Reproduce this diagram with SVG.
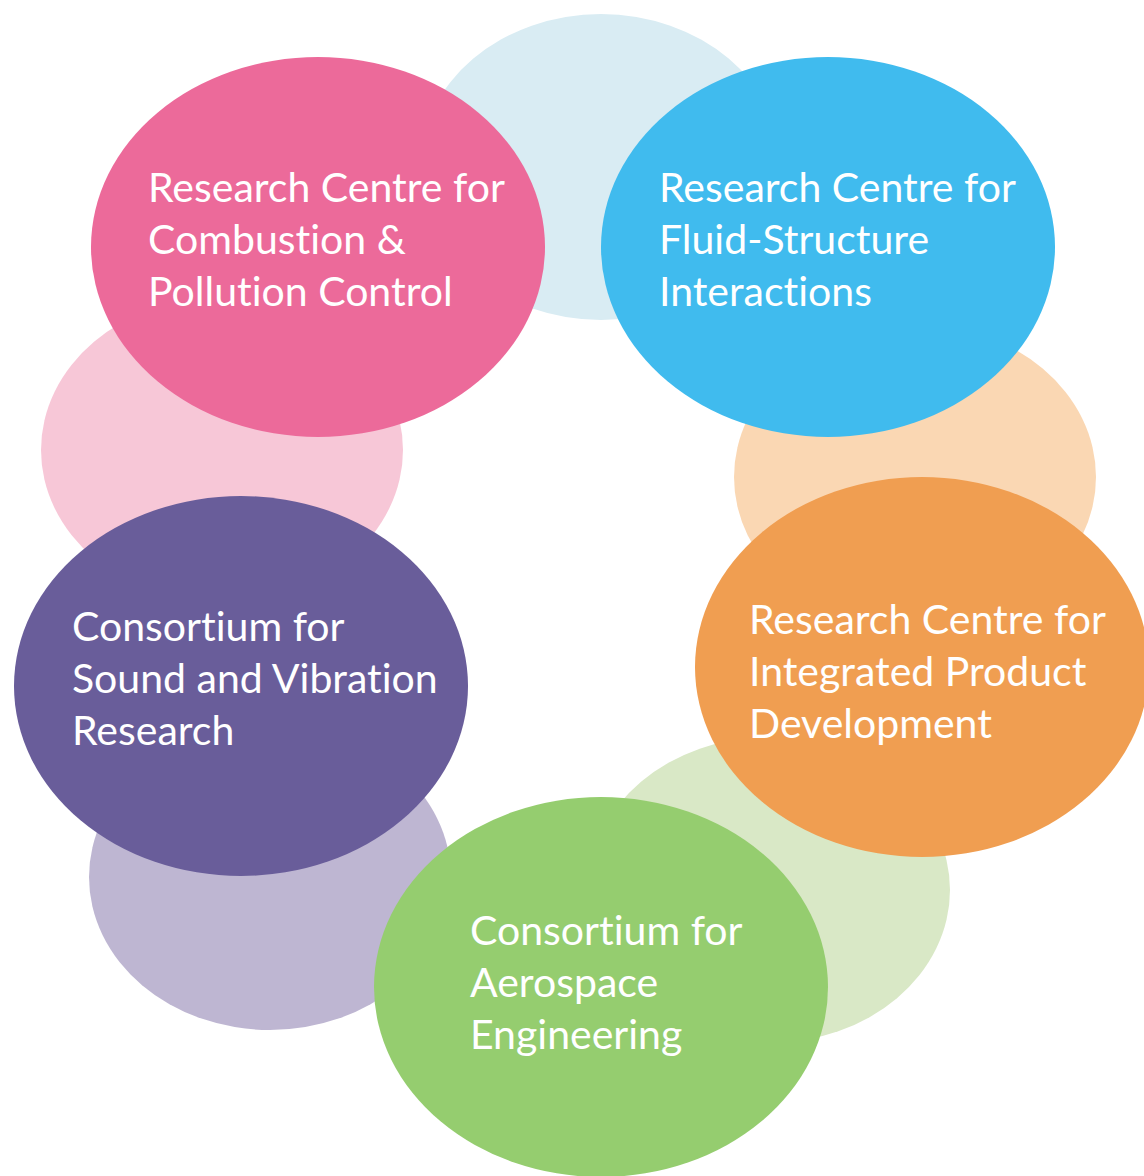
<svg xmlns="http://www.w3.org/2000/svg" width="1144" height="1176" viewBox="0 0 1144 1176">
<style>
.bg{stroke:none}
.fg{stroke:none}
.lbl{font-family:Lato,"Open Sans","Liberation Sans",sans-serif;font-size:41px;fill:#ffffff;font-variant-ligatures:none;font-feature-settings:"liga" 0,"clig" 0}
</style>
<rect x="0" y="0" width="1144" height="1176" fill="#ffffff"/>
<g id="background-ellipses">
<ellipse class="bg" cx="601" cy="167" rx="181" ry="153" fill="#D9ECF3"/>
<ellipse class="bg" cx="915" cy="477" rx="181" ry="153" fill="#FAD7B3"/>
<ellipse class="bg" cx="769" cy="890" rx="181" ry="153" fill="#D9E8C6"/>
<ellipse class="bg" cx="270" cy="877" rx="181" ry="153" fill="#BEB6D2"/>
<ellipse class="bg" cx="222" cy="450" rx="181" ry="153" fill="#F7C7D7"/>
</g>
<g id="node-combustion">
<ellipse class="fg" cx="318" cy="247" rx="227" ry="190" fill="#EC6A9A"/>
<text class="lbl" x="148" y="202">Research Centre for</text>
<text class="lbl" x="148" y="254">Combustion &amp;</text>
<text class="lbl" x="148" y="306">Pollution Control</text>
</g>
<g id="node-fluid">
<ellipse class="fg" cx="828" cy="247" rx="227" ry="190" fill="#40BBEE"/>
<text class="lbl" x="659" y="202">Research Centre for</text>
<text class="lbl" x="659" y="254">Fluid-Structure</text>
<text class="lbl" x="659" y="306">Interactions</text>
</g>
<g id="node-product">
<ellipse class="fg" cx="922" cy="667" rx="227" ry="190" fill="#F09E51"/>
<text class="lbl" x="749" y="634">Research Centre for</text>
<text class="lbl" x="749" y="686">Integrated Product</text>
<text class="lbl" x="749" y="738">Development</text>
</g>
<g id="node-aerospace">
<ellipse class="fg" cx="601" cy="987" rx="227" ry="190" fill="#95CD6F"/>
<text class="lbl" x="470" y="945">Consortium for</text>
<text class="lbl" x="470" y="997">Aerospace</text>
<text class="lbl" x="470" y="1049">Engineering</text>
</g>
<g id="node-sound">
<ellipse class="fg" cx="241" cy="686" rx="227" ry="190" fill="#695D9A"/>
<text class="lbl" x="72" y="641">Consortium for</text>
<text class="lbl" x="72" y="693">Sound and Vibration</text>
<text class="lbl" x="72" y="745">Research</text>
</g>
<g id="connectors"></g>
</svg>
